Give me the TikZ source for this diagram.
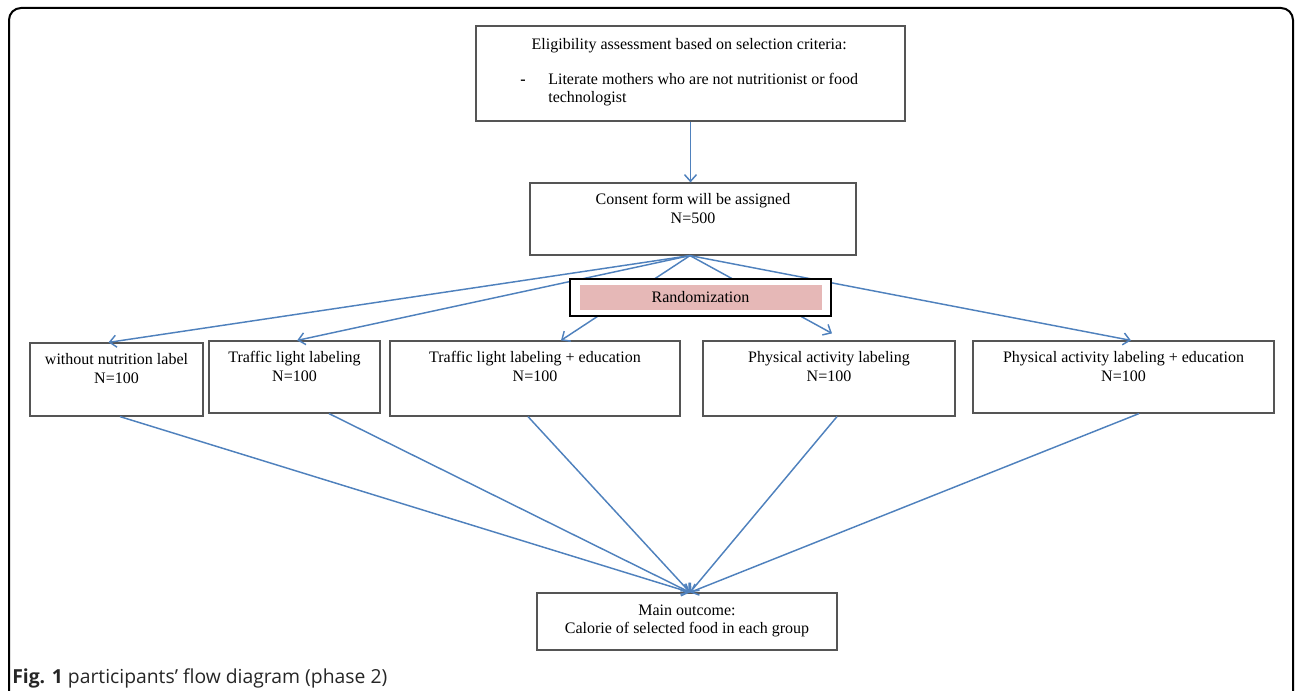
\documentclass[tikz,border=0pt]{standalone}
\usepackage{fontspec}
\setmainfont{Liberation Serif}
\newfontfamily\capfont{Open Sans}
\usetikzlibrary{arrows.meta}
\definecolor{flowblue}{RGB}{79,129,189}
\definecolor{boxgray}{RGB}{85,85,85}
\definecolor{randpink}{RGB}{230,184,183}
\begin{document}
\begin{tikzpicture}[x=0.75pt, y=-0.75pt,
  box/.style={draw=boxgray, line width=0.9pt, inner sep=0pt},
  txt/.style={anchor=north, align=center, inner sep=8pt, font=\fontsize{12}{14}\selectfont},
  flow/.style={draw=flowblue, line width=1.1pt, -{Straight Barb[length=5pt,width=9pt]}}]
  \useasboundingbox (0,0) rectangle (1295,691);
  \draw[line width=1.5pt, rounded corners=9pt] (9,740) -- (9,8) -- (1293,8) -- (1293,740);

  % boxes
  \node[box, minimum width=321.75pt, minimum height=71.25pt,
        label={[txt, xshift=-1pt]north:{\begin{tabular}{@{}p{21pt}@{}l@{}}
          \multicolumn{2}{@{}c@{}}{Eligibility assessment based on selection criteria:}\\[12pt]
          \textbf{-} & Literate mothers who are not nutritionist or food\\
          & technologist\end{tabular}}}] (elig) at (690.5,73.5) {};
  \node[box, minimum width=244.5pt, minimum height=54pt,
        label={[txt]north:{Consent form will be assigned\\N=500}}] (consent) at (693,219) {};
  \node[box, minimum width=129.75pt, minimum height=54.75pt,
        label={[txt]north:{without nutrition label\\N=100}}] (g1) at (116.5,379.5) {};
  \node[box, minimum width=128.25pt, minimum height=54pt,
        label={[txt]north:{Traffic light labeling\\N=100}}] (g2) at (294.5,377) {};
  \node[box, minimum width=217.5pt, minimum height=56.25pt,
        label={[txt]north:{Traffic light labeling + education\\N=100}}] (g3) at (535,378.5) {};
  \node[box, minimum width=189pt, minimum height=56.25pt,
        label={[txt]north:{Physical activity labeling\\N=100}}] (g4) at (829,378.5) {};
  \node[box, minimum width=225.75pt, minimum height=54pt,
        label={[txt]north:{Physical activity labeling + education\\N=100}}] (g5) at (1123.5,377) {};
  \node[box, minimum width=225pt, minimum height=42.75pt,
        label={[txt, yshift=-1pt]north:{Main outcome:\\Calorie of selected food in each group}}] (outcome) at (687,621.5) {};

  % connectors
  \coordinate (split) at ([xshift=-2.25pt]consent.south);
  \coordinate (merge) at ([xshift=2.25pt]outcome.north);
  \path (elig.south) edge[flow] (elig.south |- consent.north);
  \path
    (split) edge[flow] ([xshift=-6pt]g1.north)
    (split) edge[flow] ([xshift=2pt]g2.north)
    (split) edge[flow] ([xshift=19.5pt]g3.north)
    (split) edge[flow] ([xshift=2.25pt,yshift=5.25pt]g4.north)
    (split) edge[flow] ([xshift=5.6pt]g5.north);
  \path
    ([xshift=2.6pt]g1.south) edge[flow] (merge)
    ([xshift=25.9pt]g2.south) edge[flow] (merge)
    ([xshift=-5.25pt]g3.south) edge[flow] (merge)
    ([xshift=6pt]g4.south) edge[flow] (merge)
    ([xshift=11.6pt]g5.south) edge[flow] (merge);

  % randomization on top of the lines
  \node[draw, line width=1.2pt, fill=white, minimum width=195.75pt, minimum height=27.75pt] (randframe) at (700.5,297.5) {};
  \node[fill=randpink, inner sep=0pt, minimum width=181.5pt, minimum height=18.75pt,
        font=\fontsize{12}{14}\selectfont] (rand) at (randframe.center) {Randomization};

  \node[anchor=base west, inner sep=0pt, text=black!85, font=\capfont\fontsize{14.5}{16}\selectfont] (caption) at (12,683)
    {\textbf{Fig. 1} participants’ flow diagram (phase 2)};
\end{tikzpicture}
\end{document}
